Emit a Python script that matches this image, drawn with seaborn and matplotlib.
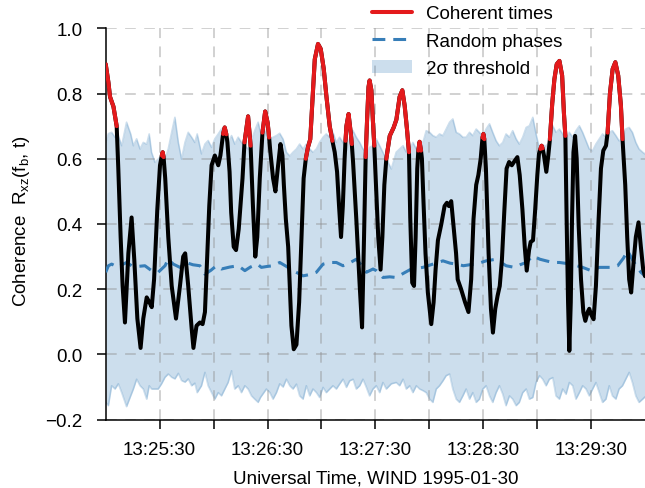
"""
Coherence between magnetic field components (WIND, 1995-01-30).

Black: measured coherence, red where it exceeds the 2-sigma threshold of the
random-phase surrogates, blue dashed: mean random-phase coherence.
"""

import matplotlib
matplotlib.use("Agg")

import matplotlib.pyplot as plt
import numpy as np
import pandas as pd
import seaborn as sns
from matplotlib.lines import Line2D
from matplotlib.patches import Patch
from matplotlib.ticker import FixedLocator, FuncFormatter


RED = "#e41a1c"
BLUE = "#377eb8"

# seconds after 13:25:00 UT
coh_time = [
    0.0, 1.5, 2.4, 4.3, 6.1, 7.0, 8.3, 9.4, 10.7, 12.6, 14.4, 15.9, 17.6, 19.4,
    20.9, 22.8, 24.3, 25.6, 26.9, 28.7, 30.2, 31.2, 31.7, 32.2, 33.1, 34.8, 36.7,
    39.1, 41.3, 43.1, 44.2, 45.9, 47.8, 48.8, 50.5, 52.4, 53.9, 55.2, 56.5, 57.6,
    58.9, 60.7, 62.6, 63.8, 65.3, 66.2, 67.1, 67.7, 68.9, 69.8, 71.2, 72.5, 74.0,
    76.1, 77.2, 79.2, 80.6, 81.9, 83.2, 84.3, 85.7, 87.2, 88.7, 90.1, 90.9, 91.6,
    93.1, 94.4, 95.9, 97.2, 98.3, 99.1, 100.2, 101.5, 102.4, 103.3, 104.6, 106.1,
    107.6, 108.9, 110.1, 111.3, 112.5, 113.8, 114.9, 116.3, 118.1, 119.6, 121.3,
    122.8, 124.6, 126.1, 127.4, 128.7, 129.8, 130.9, 131.9, 132.9, 133.4, 133.9,
    135.1, 136.3, 136.9, 137.6, 139.4, 141.3, 142.6, 143.7, 144.6, 145.4, 146.2,
    146.8, 147.8, 148.6, 149.4, 150.5, 151.6, 152.9, 153.9, 155.0, 156.1, 158.0,
    160.2, 161.7, 163.5, 165.0, 166.3, 167.6, 168.7, 169.4, 170.5, 171.5, 172.4,
    173.3, 173.9, 174.6, 175.4, 175.9, 176.8, 177.9, 179.2, 181.1, 182.4, 183.5,
    184.8, 186.7, 188.5, 189.8, 190.9, 192.2, 193.4, 194.9, 195.8, 197.7, 199.9,
    201.8, 203.3, 204.6, 206.1, 207.3, 208.6, 209.6, 210.1, 210.6, 211.5, 213.0,
    214.3, 215.4, 216.7, 218.0, 219.2, 220.4, 221.7, 223.0, 224.4, 225.9, 227.7,
    229.0, 230.3, 231.8, 233.1, 234.2, 235.5, 236.4, 237.7, 238.8, 240.1, 241.0,
    241.8, 242.5, 243.0, 243.8, 245.1, 246.2, 247.1, 248.4, 249.6, 250.9, 252.4,
    253.9, 254.9, 255.7, 256.4, 257.2, 257.9, 258.7, 259.4, 260.2, 261.1, 262.0,
    263.1, 264.4, 265.7, 266.8, 268.1, 269.0, 269.9, 271.4, 272.7, 274.2, 275.5,
    276.8, 278.3, 279.2, 280.5, 282.0, 283.5, 285.1, 286.6, 287.5, 289.0, 290.1,
    291.2, 292.3, 293.6, 294.9, 296.4, 297.7, 299.0, 300.0,
]
coh_value = [
    0.89, 0.834, 0.79, 0.76, 0.70, 0.57, 0.36, 0.21, 0.098, 0.31, 0.42, 0.29, 0.11, 0.02,
    0.11, 0.175, 0.16, 0.145, 0.23, 0.445, 0.58, 0.61, 0.62, 0.605, 0.54, 0.36, 0.21,
    0.11, 0.21, 0.30, 0.31, 0.21, 0.08, 0.02, 0.088, 0.098, 0.093, 0.13, 0.31, 0.455,
    0.58, 0.61, 0.58, 0.61, 0.676, 0.696, 0.675, 0.65, 0.56, 0.435, 0.33, 0.32, 0.385,
    0.54, 0.65, 0.73, 0.64, 0.455, 0.30, 0.36, 0.54, 0.68, 0.745, 0.71, 0.665, 0.62,
    0.54, 0.50, 0.58, 0.645, 0.61, 0.52, 0.415, 0.33, 0.21, 0.088, 0.016, 0.03,
    0.16, 0.36, 0.54, 0.60, 0.635, 0.66, 0.77, 0.905, 0.952, 0.937, 0.875,
    0.79, 0.70, 0.655, 0.62, 0.56, 0.455, 0.36, 0.455, 0.60, 0.655, 0.70,
    0.737, 0.68, 0.645, 0.59, 0.415, 0.21, 0.083, 0.36, 0.605, 0.72, 0.82,
    0.84, 0.81, 0.72, 0.64, 0.50, 0.36, 0.26, 0.36, 0.52, 0.60, 0.67,
    0.696, 0.72, 0.79, 0.81, 0.763, 0.69, 0.62, 0.42, 0.22, 0.21, 0.36,
    0.57, 0.625, 0.652, 0.625, 0.60, 0.465, 0.31, 0.19, 0.093, 0.16, 0.26,
    0.35, 0.40, 0.455, 0.465, 0.455, 0.47, 0.40, 0.31, 0.23, 0.20, 0.16,
    0.13, 0.23, 0.415, 0.52, 0.55, 0.60, 0.665, 0.676, 0.66, 0.57, 0.31,
    0.14, 0.067, 0.14, 0.18, 0.21, 0.29, 0.435, 0.57, 0.59, 0.58, 0.595,
    0.605, 0.55, 0.445, 0.33, 0.257, 0.32, 0.345, 0.35, 0.435, 0.55, 0.615,
    0.63, 0.64, 0.632, 0.61, 0.56, 0.61, 0.66, 0.77, 0.844, 0.89, 0.90,
    0.855, 0.74, 0.67, 0.415, 0.16, 0.011, 0.16, 0.415, 0.62, 0.67, 0.60,
    0.395, 0.23, 0.13, 0.103, 0.13, 0.14, 0.124, 0.108, 0.21, 0.415, 0.57,
    0.625, 0.64, 0.68, 0.80, 0.875, 0.896, 0.855, 0.763, 0.66, 0.52, 0.36,
    0.23, 0.19, 0.28, 0.36, 0.405, 0.33, 0.26, 0.24,
]

# intervals (s) where coherence exceeds the 2-sigma threshold
coherent_windows = [
    (0.0, 6.2), (31.0, 32.3), (65.2, 67.2), (77.0, 81.0), (86.9, 91.0),
    (111.2, 126.2), (133.3, 137.0), (144.5, 149.5), (156.0, 168.8),
    (173.8, 175.5), (209.5, 210.7), (241.7, 243.1), (246.5, 255.8),
    (279.0, 287.6),
]

band_time = [
    0.0, 1.5, 3.3, 5.2, 7.0, 8.9, 11.6, 13.9, 15.4, 17.2, 19.1, 20.9, 22.8, 24.2,
    25.5, 27.4, 29.2, 31.1, 33.0, 34.8, 36.7, 38.5, 40.4, 42.2, 44.1, 45.9, 47.8,
    49.6, 50.9, 53.3, 55.2, 57.0, 58.9, 60.7, 62.6, 64.4, 66.3, 68.1, 70.0, 71.8,
    73.7, 75.5, 77.4, 79.2, 81.1, 82.9, 84.8, 86.1, 87.6, 89.4, 91.3, 93.1, 95.0,
    96.8, 98.7, 100.5, 102.4, 104.2, 106.1, 107.9, 109.8, 111.6, 113.5, 115.3,
    117.2, 119.0, 120.9, 122.7, 124.6, 126.4, 128.3, 130.1, 132.0, 133.9, 135.7,
    137.6, 139.4, 141.3, 143.1, 145.0, 146.8, 148.7, 150.5, 152.4, 154.2, 156.1,
    158.9, 161.6, 163.5, 165.4, 167.2, 169.1, 170.9, 172.8, 174.6, 176.5, 178.3,
    180.2, 182.0, 183.9, 185.7, 187.6, 189.4, 191.3, 193.1, 195.0, 196.8, 198.7,
    200.5, 202.4, 204.2, 206.1, 207.9, 209.8, 211.6, 213.5, 215.3, 217.2, 219.0,
    220.9, 222.7, 224.6, 226.4, 228.3, 230.1, 232.0, 233.9, 235.7, 237.6, 239.4,
    241.3, 243.1, 245.0, 246.8, 248.7, 250.5, 252.4, 254.2, 256.1, 257.9, 259.8,
    261.6, 263.5, 265.3, 267.2, 269.0, 270.9, 272.7, 274.6, 276.4, 278.3, 280.1,
    281.9, 283.8, 285.6, 287.5, 289.3, 291.2, 293.0, 294.9, 296.7, 298.7, 300.0,
]
band_upper = [
    0.650, 0.677, 0.681, 0.666, 0.671, 0.640, 0.712, 0.676, 0.640, 0.661, 0.630, 0.650, 0.645, 0.676,
    0.620, 0.589, 0.599, 0.609, 0.599, 0.630, 0.681, 0.727, 0.650, 0.599, 0.650, 0.681, 0.666,
    0.650, 0.676, 0.615, 0.645, 0.656, 0.635, 0.661, 0.676, 0.691, 0.666, 0.650, 0.671, 0.645,
    0.666, 0.650, 0.640, 0.630, 0.655, 0.686, 0.712, 0.681, 0.701, 0.671, 0.661, 0.666, 0.671,
    0.678, 0.660, 0.620, 0.609, 0.620, 0.630, 0.645, 0.630, 0.645, 0.630, 0.620,
    0.630, 0.650, 0.666, 0.676, 0.666, 0.681, 0.650, 0.666, 0.650, 0.625, 0.661,
    0.686, 0.666, 0.650, 0.630, 0.620, 0.635, 0.640, 0.661, 0.640, 0.620, 0.600,
    0.569, 0.620, 0.630, 0.640, 0.620, 0.630, 0.650, 0.630, 0.640, 0.650, 0.686,
    0.681, 0.671, 0.666, 0.676, 0.671, 0.691, 0.712, 0.722, 0.681, 0.676, 0.666,
    0.666, 0.681, 0.671, 0.691, 0.681, 0.668, 0.691, 0.707, 0.681, 0.655, 0.640,
    0.650, 0.676, 0.666, 0.686, 0.661, 0.645, 0.666, 0.696, 0.701, 0.727, 0.676,
    0.630, 0.640, 0.640, 0.650, 0.701, 0.681, 0.691, 0.676, 0.650, 0.681, 0.666,
    0.686, 0.701, 0.681, 0.655, 0.630, 0.625, 0.645, 0.661, 0.676, 0.666, 0.681,
    0.686, 0.671, 0.655, 0.661, 0.691, 0.696, 0.681, 0.650, 0.630, 0.620, 0.615,
]
band_lower = [
    -0.147, -0.157, -0.096, -0.106, -0.090, -0.117, -0.160, -0.127, -0.106, -0.076, -0.096, -0.106, -0.137, -0.096,
    -0.106, -0.106, -0.106, -0.090, -0.070, -0.060, -0.070, -0.075, -0.058, -0.080, -0.085, -0.075, -0.096,
    -0.088, -0.117, -0.096, -0.055, -0.096, -0.117, -0.137, -0.117, -0.127, -0.106, -0.086, -0.050, -0.106,
    -0.096, -0.117, -0.096, -0.106, -0.127, -0.137, -0.147, -0.132, -0.120, -0.106, -0.117, -0.137, -0.117,
    -0.090, -0.100, -0.076, -0.096, -0.106, -0.091, -0.127, -0.137, -0.096, -0.127, -0.106,
    -0.117, -0.132, -0.101, -0.117, -0.106, -0.096, -0.106, -0.091, -0.076, -0.101, -0.081,
    -0.076, -0.106, -0.096, -0.076, -0.101, -0.127, -0.106, -0.096, -0.117, -0.086, -0.106,
    -0.090, -0.086, -0.096, -0.076, -0.106, -0.096, -0.117, -0.096, -0.106, -0.111, -0.117,
    -0.137, -0.147, -0.106, -0.096, -0.081, -0.065, -0.060, -0.106, -0.137, -0.147, -0.127,
    -0.106, -0.137, -0.117, -0.147, -0.137, -0.106, -0.096, -0.127, -0.147, -0.117, -0.096,
    -0.122, -0.157, -0.127, -0.137, -0.157, -0.147, -0.117, -0.106, -0.137, -0.132, -0.086,
    -0.065, -0.076, -0.096, -0.076, -0.071, -0.127, -0.137, -0.106, -0.122, -0.086, -0.096,
    -0.137, -0.117, -0.096, -0.106, -0.127, -0.106, -0.086, -0.117, -0.147, -0.137, -0.096,
    -0.127, -0.137, -0.106, -0.096, -0.076, -0.055, -0.086, -0.127, -0.147, -0.137, -0.130,
]

random_time = [
    0.0, 1.5, 3.3, 7.0, 9.8, 11.6, 14.4, 18.0, 21.8, 25.5, 29.2, 33.0, 34.8, 37.6,
    41.3, 44.6, 48.5, 52.4, 55.2, 58.5, 61.6, 64.4, 69.0, 73.7, 77.4, 80.5, 84.3,
    86.6, 90.0, 93.1, 96.8, 100.5, 104.2, 109.8, 113.5, 117.2, 120.9, 124.6, 128.3,
    132.0, 135.5, 139.4, 142.0, 145.0, 148.7, 150.5, 154.2, 158.0, 161.6, 166.0,
    170.0, 176.5, 182.0, 187.6, 191.5, 195.0, 199.0, 202.5, 206.1, 211.6, 217.2,
    222.7, 227.4, 230.5, 233.9, 237.6, 241.5, 245.0, 248.7, 252.4, 259.0, 265.3,
    270.0, 274.6, 281.0, 284.8, 288.0, 290.3, 293.9, 297.7, 300.0,
]
random_value = [
    0.252, 0.272, 0.277, 0.267, 0.277, 0.282, 0.272, 0.270, 0.272, 0.257, 0.252, 0.272, 0.292, 0.277,
    0.267, 0.282, 0.275, 0.272, 0.246, 0.258, 0.272, 0.262, 0.268, 0.272, 0.257, 0.268, 0.277,
    0.267, 0.270, 0.272, 0.282, 0.270, 0.257, 0.241, 0.245, 0.252, 0.277, 0.282, 0.282,
    0.272, 0.280, 0.292, 0.275, 0.252, 0.262, 0.257, 0.236, 0.238, 0.236, 0.250,
    0.262, 0.267, 0.277, 0.287, 0.280, 0.277, 0.272, 0.275, 0.277, 0.287, 0.292,
    0.272, 0.267, 0.275, 0.282, 0.302, 0.292, 0.287, 0.282, 0.282, 0.277, 0.267,
    0.257, 0.267, 0.267, 0.272, 0.295, 0.318, 0.282, 0.252, 0.241,
]

tick_seconds = [30, 60, 90, 120, 150, 180, 210, 240, 270]


def time_label(sec, pos=None):
    sec = int(round(sec))
    if sec % 60 != 30:
        return ""
    return f"13:{25 + sec // 60:02d}:{sec % 60:02d}"


def main():
    sns.set_theme(
        style="ticks",
        rc={
            "axes.spines.top": False,
            "axes.spines.right": False,
            "text.color": "black",
            "axes.labelcolor": "black",
            "xtick.color": "black",
            "ytick.color": "black",
            "axes.edgecolor": "black",
        },
    )
    plt.rcParams["font.family"] = ["Liberation Sans", "DejaVu Sans"]
    plt.rcParams["mathtext.default"] = "regular"
    plt.rcParams["font.size"] = 13.5

    coh_df = pd.DataFrame({"seconds": coh_time, "coherence": coh_value})
    segment = np.full(len(coh_df), -1)
    for i, (start, end) in enumerate(coherent_windows):
        segment[(coh_df["seconds"] >= start) & (coh_df["seconds"] <= end)] = i
    red_df = coh_df.assign(segment=segment)
    red_df = red_df[red_df["segment"] >= 0]

    fig = plt.figure(figsize=(6.45, 4.89), dpi=100)
    ax = fig.add_axes([0.1639, 0.1397, 0.8361, 0.8004])

    ax.fill_between(band_time, band_lower, band_upper, color=BLUE, alpha=0.25, lw=0, zorder=1)
    ax.plot(band_time, band_upper, color=BLUE, alpha=0.25, lw=1.2, zorder=1.2)
    ax.plot(band_time, band_lower, color=BLUE, alpha=0.25, lw=1.2, zorder=1.2)

    sns.lineplot(x=random_time, y=random_value, color=BLUE, lw=2.2,
                 linestyle=(0, (4.2, 2.6)), estimator=None, sort=False, ax=ax, zorder=3)
    sns.lineplot(data=coh_df, x="seconds", y="coherence", color="black", lw=2.9,
                 estimator=None, sort=False, ax=ax, zorder=4)
    sns.lineplot(data=red_df, x="seconds", y="coherence", units="segment", color=RED,
                 lw=2.9, estimator=None, sort=False, legend=False, ax=ax, zorder=5)

    ax.set_xlim(0, 300)
    ax.set_ylim(-0.2, 1.0)
    ax.xaxis.set_major_locator(FixedLocator(tick_seconds))
    ax.xaxis.set_major_formatter(FuncFormatter(time_label))
    ax.set_yticks([-0.2, 0.0, 0.2, 0.4, 0.6, 0.8, 1.0])
    ax.yaxis.set_major_formatter(FuncFormatter(lambda v, p: f"{v:.1f}".replace("-", "\u2212")))

    ax.set_axisbelow("line")
    ax.grid(True, color="#8c8c8c", alpha=0.5, lw=1.1, linestyle=(0, (7, 5.5)))

    for side in ("left", "bottom"):
        ax.spines[side].set_color("black")
        ax.spines[side].set_linewidth(1.1)
    ax.tick_params(axis="both", direction="out", length=6.5, width=1.1, color="black",
                   labelsize=13.5, labelcolor="black")
    ax.tick_params(axis="y", pad=10)
    ax.tick_params(axis="x", pad=9)

    ax.set_xlabel("Universal Time, WIND 1995-01-30", fontsize=13.5, labelpad=8, color="black")
    ax.set_ylabel("Coherence  R$_{xz}$(f$_b$, t)", fontsize=13.5, color="black")
    ax.yaxis.set_label_coords(-0.137, 0.51)

    handles = [
        Line2D([], [], color=RED, lw=2.9),
        Line2D([], [], color=BLUE, lw=2.2, linestyle=(0, (4.2, 2.6))),
        Patch(facecolor=BLUE, alpha=0.25, edgecolor="none"),
    ]
    labels = ["Coherent times", "Random phases", "2\u03c3 threshold"]
    fig.legend(handles, labels, loc="upper left", bbox_to_anchor=(0.577, 0.987),
               frameon=False, fontsize=13.5, borderpad=0, borderaxespad=0,
               handlelength=2.13, handletextpad=0.75, labelspacing=0.54)

    fig.savefig("out.png", dpi=100)
    plt.close(fig)


if __name__ == "__main__":
    main()
